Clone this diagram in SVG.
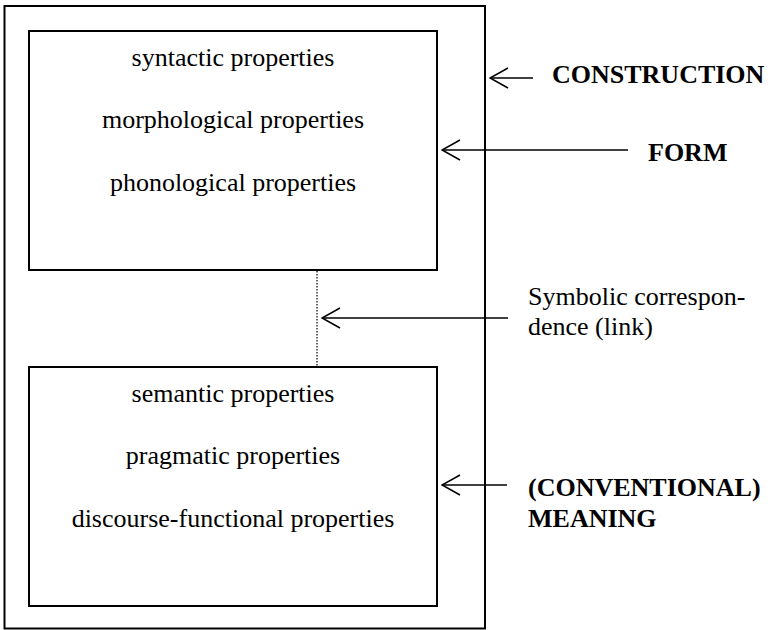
<svg xmlns="http://www.w3.org/2000/svg" width="771" height="630" viewBox="0 0 771 630">
  <style>
    .box { fill: none; stroke: #000; stroke-width: 2; }
    text { font-family: 'Liberation Serif', 'Times New Roman', Times, 'DejaVu Serif', serif; font-size: 26px; fill: #000; }
    .prop { text-anchor: middle; }
    .bold { font-weight: bold; }
    .arrow { fill: none; stroke: #000; stroke-width: 1.6; }
    .link { stroke: #000; stroke-width: 1.2; stroke-dasharray: 1.5 1.5; }
  </style>
  <defs>
    <marker id="open" viewBox="0 0 20 22" refX="19" refY="11" markerWidth="20" markerHeight="22" markerUnits="userSpaceOnUse" orient="auto">
      <path d="M1 1 L19 11 L1 21" fill="none" stroke="#000" stroke-width="1.6"/>
    </marker>
  </defs>
  <rect width="771" height="630" fill="#fff"/>

  <!-- construction: outer frame -->
  <g id="construction">
    <rect class="box" x="4.5" y="6" width="480.5" height="622.5"/>
  </g>

  <!-- form pole -->
  <g id="form">
    <rect class="box" x="29" y="31" width="408" height="239"/>
    <text class="prop" x="233" y="66">syntactic properties</text>
    <text class="prop" x="233" y="128">morphological properties</text>
    <text class="prop" x="233" y="191">phonological properties</text>
  </g>

  <!-- meaning pole -->
  <g id="meaning">
    <rect class="box" x="29" y="367" width="408" height="239"/>
    <text class="prop" x="233" y="402">semantic properties</text>
    <text class="prop" x="233" y="464">pragmatic properties</text>
    <text class="prop" x="233" y="527">discourse-functional properties</text>
  </g>

  <!-- labels -->
  <g id="label-construction">
    <text class="bold" x="552" y="83">CONSTRUCTION</text>
  </g>
  <g id="label-form">
    <text class="bold" x="648" y="161">FORM</text>
  </g>
  <g id="label-link">
    <text x="528" y="305">Symbolic correspon-</text>
    <text x="528" y="335">dence (link)</text>
  </g>
  <g id="label-meaning">
    <text class="bold" x="528" y="496">(CONVENTIONAL)</text>
    <text class="bold" x="528" y="527">MEANING</text>
  </g>

  <!-- connectors -->
  <g id="connectors">
    <line class="link" x1="317" y1="271" x2="317" y2="366"/>
    <line class="arrow" x1="533" y1="78" x2="490" y2="78" marker-end="url(#open)"/>
    <line class="arrow" x1="628" y1="150" x2="442" y2="150" marker-end="url(#open)"/>
    <line class="arrow" x1="508" y1="318" x2="322" y2="318" marker-end="url(#open)"/>
    <line class="arrow" x1="507" y1="485" x2="442" y2="485" marker-end="url(#open)"/>
  </g>
</svg>
